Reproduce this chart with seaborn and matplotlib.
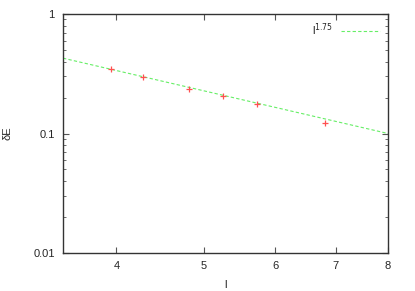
import numpy as np
import pandas as pd
import matplotlib
matplotlib.use("Agg")
import matplotlib.pyplot as plt
import seaborn as sns
from matplotlib.lines import Line2D
from matplotlib.ticker import FixedLocator, NullFormatter, LogLocator

# data
l_vals = [3.94, 4.28, 4.82, 5.25, 5.73, 6.81]
dE_vals = [0.347, 0.297, 0.236, 0.206, 0.177, 0.122]
fit_l = [3.49, 8.0]
fit_dE = [0.427, 0.1]
x_ticks = [4, 5, 6, 7, 8]
y_ticks = [0.01, 0.1, 1]
y_ticklabels = ["0.01", "0.1", "1"]

sns.set_style("ticks")
plt.rcParams['font.family'] = ['Liberation Sans', 'DejaVu Sans']

fig = plt.figure(figsize=(4.15, 2.91), dpi=100)
ax = fig.add_axes([63/415, 1-253/291, (388-63)/415, (253-14)/291])

fit_df = pd.DataFrame({"l": fit_l, "dE": fit_dE})
pts_df = pd.DataFrame({"l": l_vals, "dE": dE_vals})

green = "#66ee66"
sns.lineplot(data=fit_df, x="l", y="dE", ax=ax, color=green, lw=0.8,
             linestyle=(0, (3, 2)))
sns.lineplot(data=pts_df, x="l", y="dE", ax=ax, linestyle="none", marker="+",
             markersize=5, markeredgewidth=0.9, color="#ff5050",
             markeredgecolor="#ff5050", zorder=3)

ax.set_xscale("log")
ax.set_yscale("log")
ax.set_xlim(3.49, 8)
ax.set_ylim(0.01, 1)
ax.xaxis.set_major_locator(FixedLocator(x_ticks))
ax.xaxis.set_minor_locator(FixedLocator([]))
ax.xaxis.set_minor_formatter(NullFormatter())
ax.set_xticklabels([str(t) for t in x_ticks])
ax.yaxis.set_major_locator(FixedLocator(y_ticks))
ax.yaxis.set_minor_locator(LogLocator(base=10, subs=np.arange(2, 10)))
ax.yaxis.set_minor_formatter(NullFormatter())
ax.set_yticklabels(y_ticklabels)
ax.tick_params(which="both", direction="in", top=True, right=True,
               labelsize=8, color="#555555")
ax.tick_params(which="major", length=4, pad=6)
ax.tick_params(which="minor", length=2)
for s in ax.spines.values():
    s.set_color("#333333")
    s.set_linewidth(1.0)

ax.set_xlabel("l", fontsize=8, labelpad=6)
ax.set_ylabel("δE", fontsize=8)
ax.yaxis.set_label_coords(-0.154, 0.5)

handle = Line2D([], [], color=green, lw=0.8, linestyle=(0, (3, 2)))
leg = ax.legend(handles=[handle], labels=["l$^{1.75}$"], loc="upper right",
                frameon=False, fontsize=8, handlelength=3.5,
                markerfirst=False, borderaxespad=0.3)

fig.savefig("out.png", dpi=100)
